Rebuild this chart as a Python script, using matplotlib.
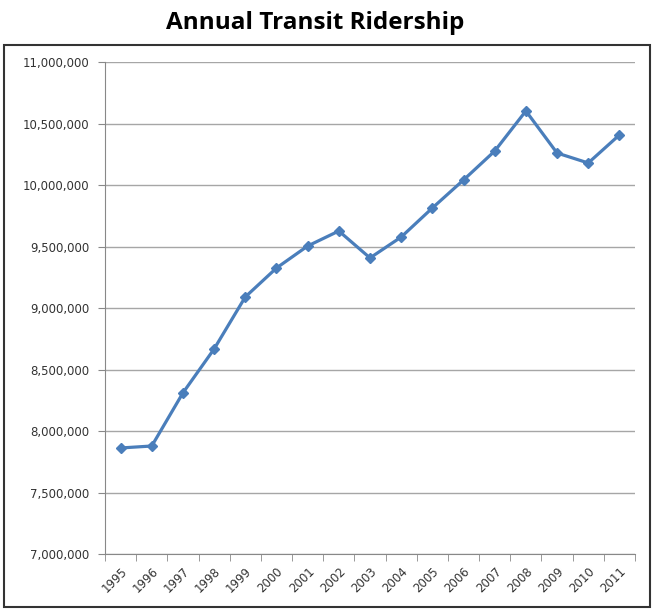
import numpy as np
import matplotlib.pyplot as plt
from matplotlib.patches import Rectangle
from matplotlib.ticker import FuncFormatter

# Annual ridership values
years = ['1995', '1996', '1997', '1998', '1999', '2000', '2001', '2002', '2003',
         '2004', '2005', '2006', '2007', '2008', '2009', '2010', '2011']
riders = [7862000, 7878000, 8310000, 8667000, 9090000, 9325000, 9504000, 9626000,
          9407000, 9577000, 9813000, 10041000, 10276000, 10602000, 10260000,
          10179000, 10407000]
y_ticks = [7000000, 7500000, 8000000, 8500000, 9000000, 9500000, 10000000,
           10500000, 11000000]

fig = plt.figure(figsize=(6.54, 6.13), dpi=100)
ax = fig.add_axes([105 / 654, 59 / 613, 530 / 654, 492 / 613])

# outer frame around the chart
fig.patches.append(Rectangle((4 / 654, 6 / 613), 646 / 654, 562 / 613,
                             transform=fig.transFigure, fill=False,
                             edgecolor='#333333', linewidth=1.5))

fig.text(0.482, 0.962, 'Annual Transit Ridership', ha='center', va='center',
         fontsize=17.5, fontweight='bold', family='Open Sans')

x = np.arange(len(years))
ax.plot(x, riders, color='#4a7ebb', linewidth=2.3, marker='D', markersize=5.5)

ax.set_xlim(-0.5, len(years) - 0.5)
ax.set_ylim(y_ticks[0], y_ticks[-1])
ax.set_yticks(y_ticks)
ax.yaxis.set_major_formatter(FuncFormatter(lambda v, p: f'{int(v):,}'))
ax.grid(axis='y', color='#a6a6a6', linewidth=1)
ax.set_axisbelow(True)

ax.set_xticks(x)
ax.set_xticklabels(years, rotation=45, ha='right', rotation_mode='anchor')
ax.set_xticks(np.arange(len(years) + 1) - 0.5, minor=True)
ax.tick_params(axis='x', which='major', length=0, labelsize=8.5, pad=8,
               labelcolor='#333333')
ax.tick_params(axis='x', which='minor', length=5, color='#888888')
ax.tick_params(axis='y', length=5, color='#888888', labelsize=8.5,
               labelcolor='#333333', pad=6)

for s in ['top', 'right']:
    ax.spines[s].set_visible(False)
for s in ['left', 'bottom']:
    ax.spines[s].set_color('#888888')

fig.savefig('out.png', dpi=100)
